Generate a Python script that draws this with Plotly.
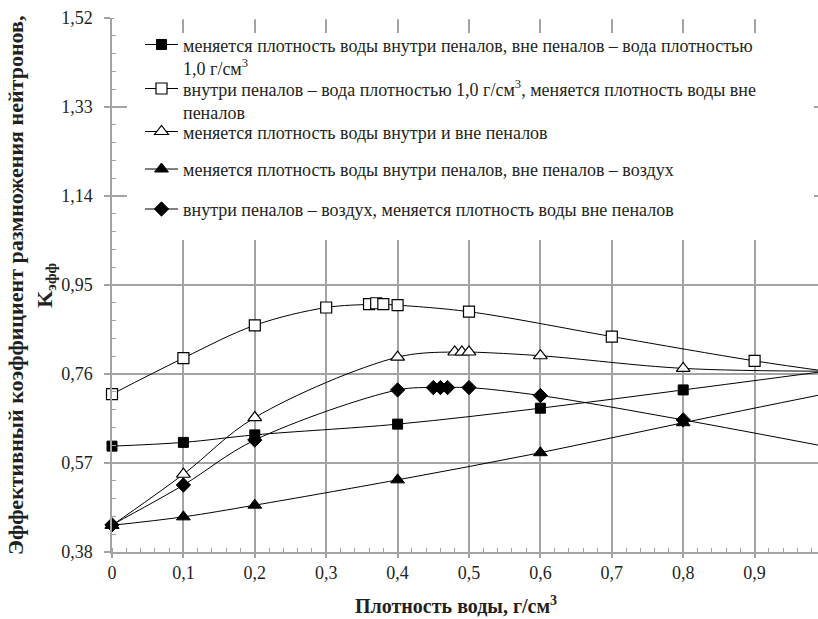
import plotly.graph_objects as go

# ---------------- data ----------------
# Series 1: water density varies inside cases, outside water 1.0 g/cm3 (filled squares)
s1_x = [0, 0.1, 0.2, 0.4, 0.6, 0.8, 1.0]
s1_y = [0.606, 0.614, 0.630, 0.653, 0.687, 0.726, 0.766]
# Series 2: inside water 1.0 g/cm3, outside density varies (open squares)
s2_x = [0, 0.1, 0.2, 0.3, 0.36, 0.37, 0.38, 0.4, 0.5, 0.7, 0.9, 1.0]
s2_y = [0.717, 0.794, 0.864, 0.902, 0.909, 0.911, 0.909, 0.907, 0.893, 0.840, 0.788, 0.766]
# Series 3: density varies inside and outside (open triangles)
s3_x = [0, 0.1, 0.2, 0.4, 0.48, 0.49, 0.5, 0.6, 0.8, 1.0]
s3_y = [0.437, 0.546, 0.667, 0.796, 0.807, 0.807, 0.807, 0.799, 0.772, 0.766]
# Series 4: density varies inside, outside air (filled triangles)
s4_x = [0, 0.1, 0.2, 0.4, 0.6, 0.8, 1.0]
s4_y = [0.437, 0.455, 0.480, 0.534, 0.592, 0.656, 0.718]
# Series 5: inside air, outside density varies (diamonds)
s5_x = [0, 0.1, 0.2, 0.4, 0.45, 0.46, 0.47, 0.5, 0.6, 0.8, 1.0]
s5_y = [0.438, 0.523, 0.619, 0.726, 0.731, 0.731, 0.731, 0.731, 0.714, 0.662, 0.605]

names = [
    "меняется плотность воды внутри пеналов, вне пеналов – вода плотностью<br>1,0 г/см<sup>3</sup>",
    "внутри пеналов – вода плотностью 1,0 г/см<sup>3</sup>, меняется плотность воды вне<br>пеналов",
    "меняется плотность воды внутри и вне пеналов",
    "меняется плотность воды внутри пеналов, вне пеналов – воздух",
    "внутри пеналов – воздух, меняется плотность воды вне пеналов",
]

x_tickvals = [0, 0.1, 0.2, 0.3, 0.4, 0.5, 0.6, 0.7, 0.8, 0.9]
x_ticktext = ["0", "0,1", "0,2", "0,3", "0,4", "0,5", "0,6", "0,7", "0,8", "0,9"]
y_tickvals = [0.38, 0.57, 0.76, 0.95, 1.14, 1.33, 1.52]
y_ticktext = ["0,38", "0,57", "0,76", "0,95", "1,14", "1,33", "1,52"]

x_title = "<b>Плотность воды, г/см<sup>3</sup></b>"
y_title = "<b>Эффективный коэффициент размножения нейтронов,<br>K<sub>эфф</sub></b>"

# ---------------- layout helpers ----------------
W, H = 818, 619
ML, MR, MT, MB = 112, 0, 18, 67
FONT = "Liberation Serif"
TXT = "#231f20"
GRID = "#a3a3a3"
LEGFS = 18


def cx(px):
    return px / W


def cy(py):
    return 1 - py / H


def paperx(px):
    return (px - ML) / (W - ML - MR)


def papery(py):
    return (H - MB - py) / (H - MT - MB)


fig = go.Figure()

styles = [
    dict(symbol="square", size=10, color="black", line=dict(color="black", width=1)),
    dict(symbol="square", size=11, color="white", line=dict(color="black", width=1.2)),
    dict(symbol="triangle-up", size=12, color="white", line=dict(color="black", width=1.2)),
    dict(symbol="triangle-up", size=12, color="black", line=dict(color="black", width=1)),
    dict(symbol="diamond", size=11, color="black", line=dict(color="black", width=1)),
]
series = [(s1_x, s1_y), (s2_x, s2_y), (s3_x, s3_y), (s4_x, s4_y), (s5_x, s5_y)]
legend_ids = ["legend", "legend2", "legend3", "legend4", "legend5"]

for i, ((xs, ys), st) in enumerate(zip(series, styles)):
    fig.add_trace(go.Scatter(
        x=xs, y=ys, name=names[i], mode="lines+markers",
        line=dict(color="black", width=1, shape="spline", smoothing=1),
        marker=st, legend=legend_ids[i], cliponaxis=False,
    ))

# legend positions (symbol centre y in px)
leg_sym_y = [44.5, 88.5, 131.5, 169, 209]
leg_top_off = 5 + 0.5 * (LEGFS * 1.3 + 3)
leg_layout = {}
for i, lid in enumerate(legend_ids):
    leg_layout[lid] = dict(
        x=cx(140), xanchor="left", xref="container",
        y=cy(leg_sym_y[i] - leg_top_off), yanchor="top", yref="container",
        bgcolor="rgba(0,0,0,0)", borderwidth=0, valign="top", itemwidth=33,
        font=dict(family=FONT, size=LEGFS, color=TXT),
    )

fig.update_layout(
    width=W, height=H,
    margin=dict(l=ML, r=MR, t=MT, b=MB, pad=0, autoexpand=False),
    paper_bgcolor="white", plot_bgcolor="white",
    showlegend=True,
    separators=", ",
    font=dict(family=FONT, size=18, color=TXT),
    xaxis=dict(
        range=[0, (W - ML - MR) / 714.0], tickmode="array",
        tickvals=x_tickvals, ticktext=x_ticktext,
        showgrid=True, gridcolor=GRID, gridwidth=1.5,
        showline=True, linecolor=GRID, linewidth=1.5,
        ticks="outside", ticklen=4, tickcolor=GRID, tickwidth=1.5,
        minor=dict(tickmode="linear", tick0=0, dtick=0.02, ticks="inside",
                   ticklen=4, tickcolor=GRID, tickwidth=1, showgrid=False),
        zeroline=False, automargin=False,
        tickfont=dict(family=FONT, size=18, color=TXT),
    ),
    yaxis=dict(
        range=[0.38, 1.52], tickmode="array",
        tickvals=y_tickvals, ticktext=y_ticktext,
        showgrid=True, gridcolor=GRID, gridwidth=1.5,
        showline=True, linecolor=GRID, linewidth=1.5,
        ticks="outside", ticklen=6, tickcolor=GRID, tickwidth=1.5,
        ticklabelstandoff=8,
        minor=dict(tickmode="linear", tick0=0.38, dtick=0.038, ticks="inside",
                   ticklen=4, tickcolor=GRID, tickwidth=1, showgrid=False),
        zeroline=False, automargin=False,
        tickfont=dict(family=FONT, size=18, color=TXT),
    ),
    shapes=[
        dict(type="rect", xref="paper", yref="paper",
             x0=paperx(127), x1=paperx(814), y0=papery(240), y1=papery(33),
             fillcolor="white", line=dict(width=0), layer="above"),
        # hide the grid line that would sit on the top edge (1,52)
        dict(type="line", xref="paper", yref="paper",
             x0=paperx(114), x1=1.0, y0=1.0, y1=1.0,
             line=dict(color="white", width=2.5), layer="above"),
    ],
    annotations=[
        dict(text=y_title, textangle=-90, xref="paper", yref="paper",
             x=paperx(31), y=papery(286), xanchor="center", yanchor="middle",
             showarrow=False, align="center",
             font=dict(family=FONT, size=22, color=TXT)),
        dict(text=x_title, xref="paper", yref="paper",
             x=paperx(456), y=papery(605), xanchor="center", yanchor="middle",
             showarrow=False, font=dict(family=FONT, size=20, color=TXT)),
    ],
    **leg_layout,
)

fig.write_html("out.html")
